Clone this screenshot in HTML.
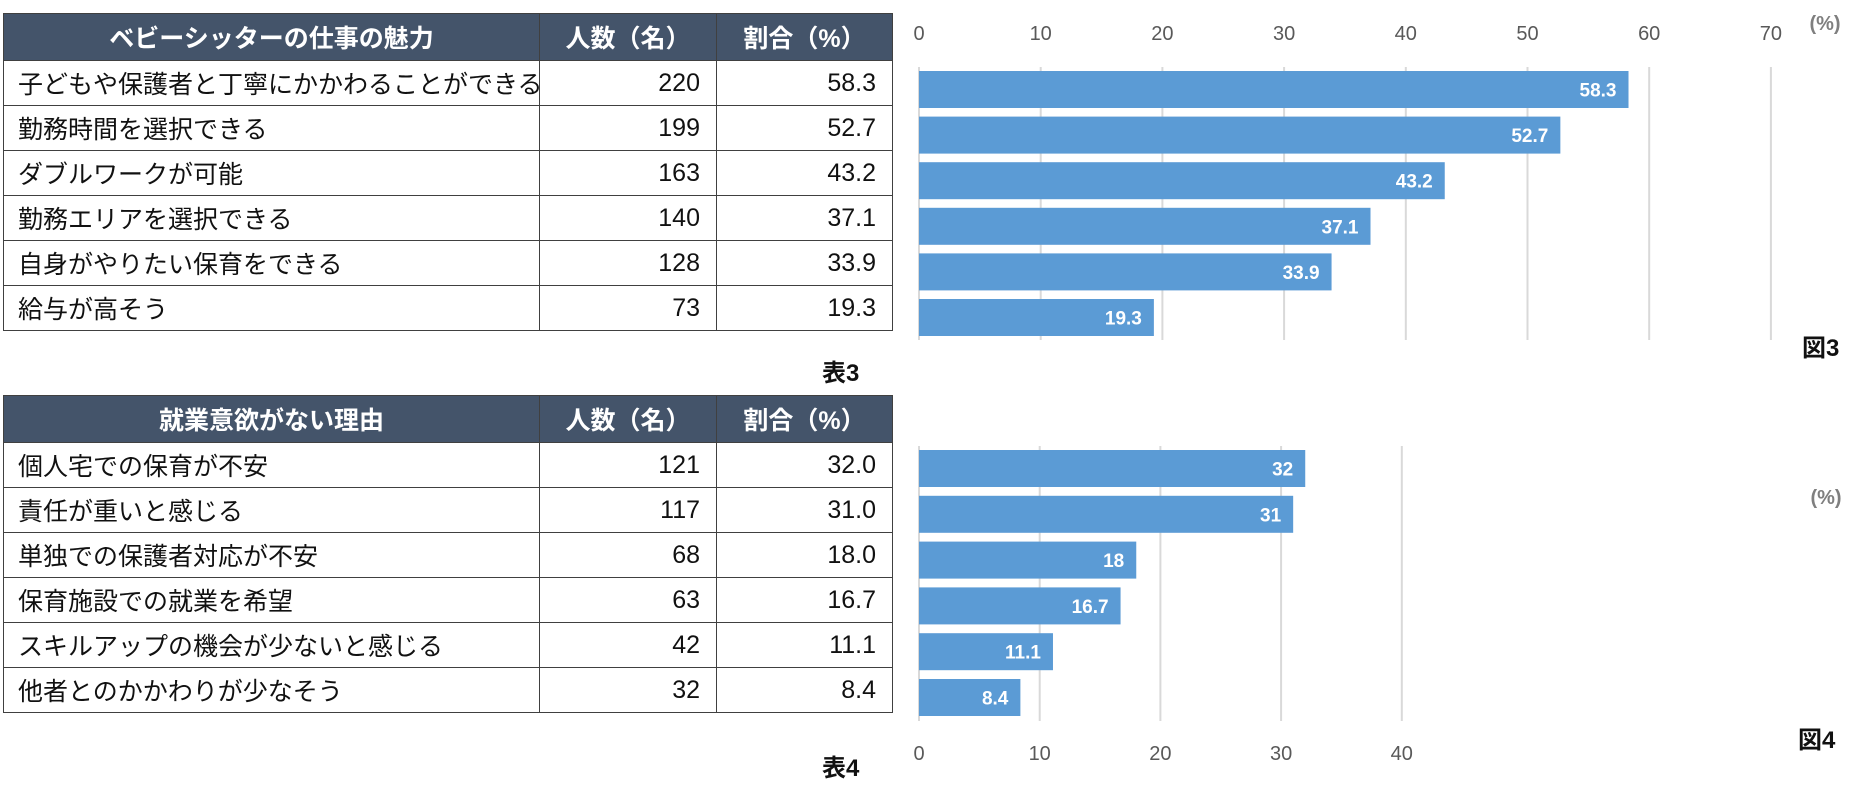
<!DOCTYPE html>
<html><head><meta charset="utf-8">
<style>
body{margin:0;width:1876px;height:797px;background:#fff;overflow:hidden;position:relative;font-family:"Liberation Sans","Noto Sans CJK JP",sans-serif;}
table{position:absolute;left:3px;border-collapse:collapse;width:889px;table-layout:fixed;}
td,th{border:1.5px solid #404040;font-size:25px;height:44px;padding:0 14px;color:#111;font-weight:normal;white-space:nowrap;}
th{background:#44546a;color:#fff;font-weight:bold;text-align:center;height:46px;}
td.n{text-align:right;padding-right:16px;}
.cap{position:absolute;font-weight:bold;font-size:24px;color:#111;}
svg{position:absolute;left:0;top:0;}
</style></head><body>
<table style="top:13px">
<colgroup><col style="width:536px"><col style="width:177px"><col style="width:176px"></colgroup>
<tr><th>ベビーシッターの仕事の魅力</th><th>人数（名）</th><th>割合（%）</th></tr>
<tr><td>子どもや保護者と丁寧にかかわることができる</td><td class="n">220</td><td class="n">58.3</td></tr>
<tr><td>勤務時間を選択できる</td><td class="n">199</td><td class="n">52.7</td></tr>
<tr><td>ダブルワークが可能</td><td class="n">163</td><td class="n">43.2</td></tr>
<tr><td>勤務エリアを選択できる</td><td class="n">140</td><td class="n">37.1</td></tr>
<tr><td>自身がやりたい保育をできる</td><td class="n">128</td><td class="n">33.9</td></tr>
<tr><td>給与が高そう</td><td class="n">73</td><td class="n">19.3</td></tr>
</table>
<div class="cap" style="left:822px;top:353px">表3</div>
<table style="top:395px">
<colgroup><col style="width:536px"><col style="width:177px"><col style="width:176px"></colgroup>
<tr><th>就業意欲がない理由</th><th>人数（名）</th><th>割合（%）</th></tr>
<tr><td>個人宅での保育が不安</td><td class="n">121</td><td class="n">32.0</td></tr>
<tr><td>責任が重いと感じる</td><td class="n">117</td><td class="n">31.0</td></tr>
<tr><td>単独での保護者対応が不安</td><td class="n">68</td><td class="n">18.0</td></tr>
<tr><td>保育施設での就業を希望</td><td class="n">63</td><td class="n">16.7</td></tr>
<tr><td>スキルアップの機会が少ないと感じる</td><td class="n">42</td><td class="n">11.1</td></tr>
<tr><td>他者とのかかわりが少なそう</td><td class="n">32</td><td class="n">8.4</td></tr>
</table>
<div class="cap" style="left:822px;top:748px">表4</div>
<div class="cap" style="left:1802px;top:328px">図3</div>
<div class="cap" style="left:1798px;top:720px">図4</div>
<svg id="ch" width="1876" height="797"></svg>
<script>
const values3 = [58.3, 52.7, 43.2, 37.1, 33.9, 19.3];
const labels3 = ["58.3", "52.7", "43.2", "37.1", "33.9", "19.3"];
const ticks3 = [0, 10, 20, 30, 40, 50, 60, 70];
const values4 = [32, 31, 18, 16.7, 11.1, 8.4];
const labels4 = ["32", "31", "18", "16.7", "11.1", "8.4"];
const ticks4 = [0, 10, 20, 30, 40];
const NS = "http://www.w3.org/2000/svg";
const svg = document.getElementById('ch');
function mk(tag, attrs, parent){const e=document.createElementNS(NS,tag);for(const k in attrs)e.setAttribute(k,attrs[k]);(parent||svg).appendChild(e);return e;}
function chart(name, vals, labs, ticks, cfg){
  const g = mk('g',{});
  
  
  const x = v => cfg.x0 + v * cfg.unit;
  ticks.forEach(t=>{
    const l = mk('line',{x1:x(t),x2:x(t),y1:cfg.gTop,y2:cfg.gBot,stroke:'#d9d9d9','stroke-width':2},g);
    
    
    const tx = mk('text',{x:x(t),y:cfg.tickY,'text-anchor':'middle','font-size':20,fill:'#595959'},g);
    tx.textContent = t;
    
    
  });
  vals.forEach((v,i)=>{
    const y = cfg.bTop + i*cfg.pitch;
    const r = mk('rect',{x:x(0),y:y,width:x(v)-x(0),height:cfg.bh,fill:'#5b9bd5'},g);
    
    
    const t = mk('text',{x:x(v)-12,y:y+cfg.bh/2+7,'text-anchor':'end','font-size':19,'font-weight':'bold',fill:'#fff'},g);
    t.textContent = labs[i];
    
    
  });
  const u = mk('text',{x:cfg.ux,y:cfg.uy,'text-anchor':'middle','font-size':20,'font-weight':'bold',fill:'#7f7f7f'},g);
  u.textContent = '(%)';
  
  
}
chart('chart-figure-3', values3, labels3, ticks3, {x0:919,unit:12.17,gTop:67,gBot:340,tickY:40,bTop:71,pitch:45.6,bh:37,ux:1825,uy:30});
chart('chart-figure-4', values4, labels4, ticks4, {x0:919,unit:12.07,gTop:446,gBot:721,tickY:760,bTop:450,pitch:45.8,bh:37,ux:1826,uy:504});
</script>
</body></html>
